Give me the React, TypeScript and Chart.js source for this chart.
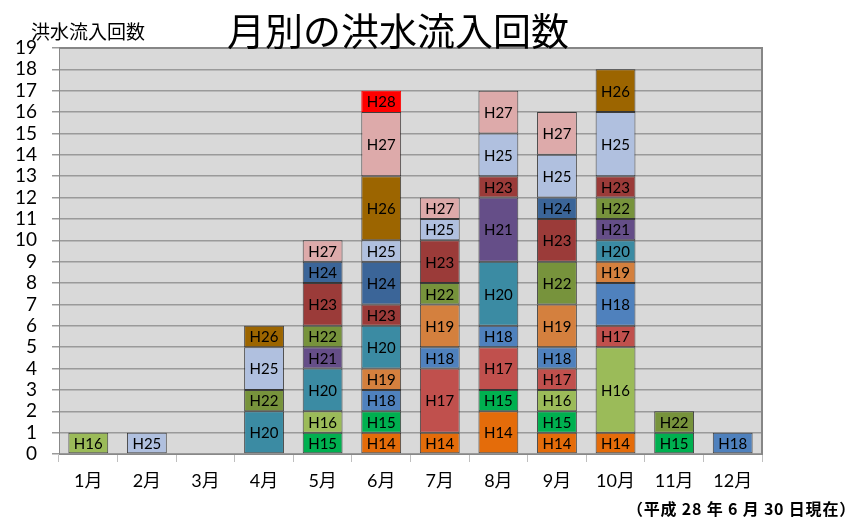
import React, { useEffect, useRef } from 'react';
import { Chart, registerables } from 'chart.js';

Chart.register(...registerables);

// ---- Data ----
const months = ['1月', '2月', '3月', '4月', '5月', '6月', '7月', '8月', '9月', '10月', '11月', '12月'];
const yTickMax = 19;

const seriesNames = ['H14', 'H15', 'H16', 'H17', 'H18', 'H19', 'H20', 'H21', 'H22', 'H23', 'H24', 'H25', 'H26', 'H27', 'H28'];

const H14 = [0, 0, 0, 0, 0, 1, 1, 2, 1, 1, 0, 0];
const H15 = [0, 0, 0, 0, 1, 1, 0, 1, 1, 0, 1, 0];
const H16 = [1, 0, 0, 0, 1, 0, 0, 0, 1, 4, 0, 0];
const H17 = [0, 0, 0, 0, 0, 0, 3, 2, 1, 1, 0, 0];
const H18 = [0, 0, 0, 0, 0, 1, 1, 1, 1, 2, 0, 1];
const H19 = [0, 0, 0, 0, 0, 1, 2, 0, 2, 1, 0, 0];
const H20 = [0, 0, 0, 2, 2, 2, 0, 3, 0, 1, 0, 0];
const H21 = [0, 0, 0, 0, 1, 0, 0, 3, 0, 1, 0, 0];
const H22 = [0, 0, 0, 1, 1, 0, 1, 0, 2, 1, 1, 0];
const H23 = [0, 0, 0, 0, 2, 1, 2, 1, 2, 1, 0, 0];
const H24 = [0, 0, 0, 0, 1, 2, 0, 0, 1, 0, 0, 0];
const H25 = [0, 1, 0, 2, 0, 1, 1, 2, 2, 3, 0, 0];
const H26 = [0, 0, 0, 1, 0, 3, 0, 0, 0, 2, 0, 0];
const H27 = [0, 0, 0, 0, 1, 3, 1, 2, 2, 0, 0, 0];
const H28 = [0, 0, 0, 0, 0, 1, 0, 0, 0, 0, 0, 0];

const seriesValues = [H14, H15, H16, H17, H18, H19, H20, H21, H22, H23, H24, H25, H26, H27, H28];

const seriesColors = [
  '#E46C0A', // H14
  '#00B050', // H15
  '#9BBB59', // H16
  '#C0504D', // H17
  '#4F81BD', // H18
  '#D4803E', // H19
  '#3B8BA3', // H20
  '#654E88', // H21
  '#77933C', // H22
  '#9B3B39', // H23
  '#3B6598', // H24
  '#B0C0DF', // H25
  '#9C6500', // H26
  '#DDAAAA', // H27
  '#FF0000', // H28
];

const CJK = '"Noto Sans CJK JP", "Noto Sans", sans-serif';
const LAT = 'Lato, "Noto Sans CJK JP", sans-serif';

const plotBgPlugin = {
  id: 'plotBg',
  beforeDraw(chart: any) {
    const { ctx, chartArea } = chart;
    ctx.save();
    ctx.fillStyle = '#D9D9D9';
    ctx.fillRect(chartArea.left, chartArea.top, chartArea.right - chartArea.left, chartArea.bottom - chartArea.top);
    ctx.restore();
  },
  afterDraw(chart: any) {
    const { ctx, chartArea } = chart;
    ctx.save();
    ctx.strokeStyle = '#868686';
    ctx.lineWidth = 2;
    ctx.beginPath();
    ctx.moveTo(chartArea.left, chartArea.top);
    ctx.lineTo(chartArea.right, chartArea.top);
    ctx.lineTo(chartArea.right, chartArea.bottom);
    ctx.stroke();
    ctx.restore();
  },
};

const barLabelPlugin = {
  id: 'barLabels',
  afterDatasetsDraw(chart: any) {
    const { ctx } = chart;
    ctx.save();
    ctx.font = '15px ' + LAT;
    ctx.fillStyle = '#000';
    ctx.textAlign = 'center';
    ctx.textBaseline = 'middle';
    chart.data.datasets.forEach((ds: any, i: number) => {
      const meta = chart.getDatasetMeta(i);
      meta.data.forEach((el: any, j: number) => {
        const v = ds.data[j];
        if (!v) return;
        const p = el.getProps(['x', 'y', 'base'], true);
        ctx.fillText(ds.label, p.x, (p.y + p.base) / 2 + 1);
      });
    });
    ctx.restore();
  },
};

export default function App() {
  const ref = useRef<HTMLCanvasElement>(null);

  useEffect(() => {
    const datasets = seriesNames.map((name, i) => ({
      label: name,
      data: seriesValues[i].map((v) => (v ? v : null)),
      backgroundColor: seriesColors[i],
      borderColor: name === 'H28' ? '#FF0000' : 'rgba(20,20,20,0.75)',
      borderWidth: 1,
      borderSkipped: false as const,
      barPercentage: 0.68,
      categoryPercentage: 1,
    }));

    const chart = new Chart(ref.current!, {
      type: 'bar',
      data: { labels: months, datasets },
      options: {
        responsive: false,
        animation: false,
        devicePixelRatio: 1,
        layout: { padding: { left: 0, right: 105, top: 48, bottom: 23 } },
        plugins: {
          legend: { display: false },
          tooltip: { enabled: false },
          title: { display: false },
        },
        scales: {
          x: {
            stacked: true,
            grid: {
              offset: true,
              drawOnChartArea: false,
              drawTicks: true,
              tickLength: 8,
              color: '#BFBFBF',
            },
            border: { display: true, color: '#888888', width: 1 },
            ticks: {
              color: '#000',
              font: { family: LAT, size: 18 },
              padding: 8,
              maxRotation: 0,
            },
            afterFit(scale: any) {
              scale.height = 40;
            },
          },
          y: {
            stacked: true,
            min: 0,
            max: yTickMax,
            grid: {
              color: '#9A9A9A',
              lineWidth: 1.5,
              tickLength: 7,
            },
            border: { display: true, color: '#888888', width: 1 },
            ticks: {
              stepSize: 1,
              autoSkip: false,
              color: '#000',
              font: { family: LAT, size: 19 },
              padding: 15,
            },
            afterFit(scale: any) {
              scale.width = 59;
            },
          },
        },
      },
      plugins: [plotBgPlugin, barLabelPlugin],
    });

    return () => {
      chart.destroy();
    };
  }, []);

  return (
    <div style={{ position: 'absolute', left: 0, top: 0, width: 867, height: 517, background: '#fff', overflow: 'hidden' }}>
      <canvas ref={ref} width={867} height={517} style={{ position: 'absolute', left: 0, top: 0, width: 867, height: 517 }} />
      <div style={{ position: 'absolute', left: 31, top: 21, fontFamily: CJK, fontSize: 19, lineHeight: '19px', whiteSpace: 'nowrap', color: '#000' }}>
        洪水流入回数
      </div>
      <div style={{ position: 'absolute', left: 227, top: 10, fontFamily: CJK, fontSize: 38, lineHeight: '38px', whiteSpace: 'nowrap', color: '#000' }}>
        月別の洪水流入回数
      </div>
      <div style={{ position: 'absolute', left: 627, top: 500, fontFamily: CJK, fontSize: 16, fontWeight: 'bold', lineHeight: '16px', letterSpacing: '0.8px', whiteSpace: 'nowrap', color: '#000' }}>
        （平成 28 年 6 月 30 日現在）
      </div>
    </div>
  );
}
